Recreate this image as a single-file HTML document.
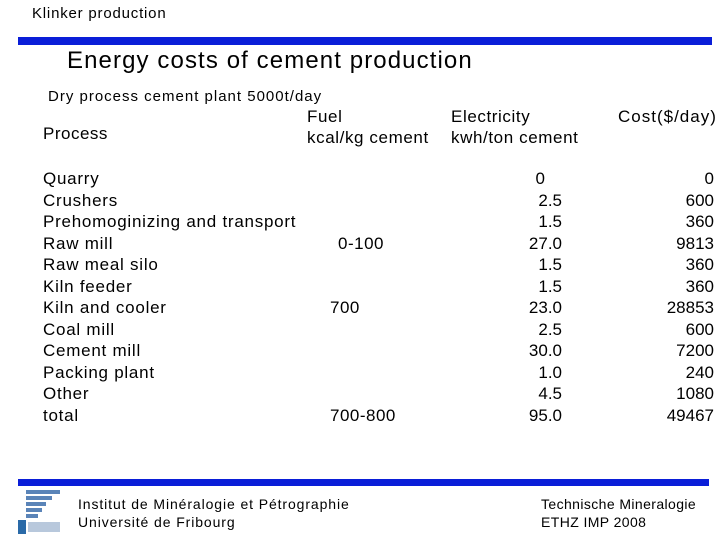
<!DOCTYPE html>
<html><head><meta charset="utf-8"><style>
body{margin:0;background:#fff}
#s{position:relative;width:720px;height:540px;overflow:hidden;background:#fff;font-family:"Liberation Sans",sans-serif;color:#000}
.t{position:absolute;white-space:nowrap;line-height:20px;height:20px}
.bar{position:absolute;background:#0a1ed8}
</style></head><body>
<div id="s">
<div class="t" style="left:32px;top:4px;font-size:15px;letter-spacing:0.8px">Klinker production</div>
<div class="bar" style="left:18px;top:37px;width:694px;height:8px"></div>
<div class="t" style="left:67px;top:47px;font-size:24px;line-height:28px;height:28px;letter-spacing:1.1px">Energy costs of cement production</div>
<div class="t" style="left:48px;top:87px;font-size:15px;letter-spacing:1px">Dry process cement plant 5000t/day</div>
<div class="t" style="left:43px;top:124px;font-size:17px;letter-spacing:0.5px">Process</div>
<div class="t" style="left:307px;top:106px;font-size:17px;line-height:21px;height:42px;letter-spacing:0.6px">Fuel<br>kcal/kg cement</div>
<div class="t" style="left:451px;top:106px;font-size:17px;line-height:21px;height:42px;letter-spacing:0.6px">Electricity<br>kwh/ton cement</div>
<div class="t" style="left:618px;top:107px;font-size:17px;letter-spacing:1px">Cost($/day)</div>
<div id="rows"></div>
<div class="bar" style="left:18px;top:479px;width:691px;height:7px"></div>
<svg style="position:absolute;left:18px;top:490px" width="44" height="44">
<g fill="#5a84b8"><rect x="8" y="0" width="34" height="4"/><rect x="8" y="6" width="26" height="4"/><rect x="8" y="12" width="20" height="4"/><rect x="8" y="18" width="16" height="4"/><rect x="8" y="24" width="12" height="4"/></g>
<rect x="0" y="30" width="8" height="14" fill="#2a6aa8"/><rect x="10" y="32" width="32" height="10" fill="#b8c8dc"/>
</svg>
<div class="t" style="left:78px;top:495px;font-size:14px;line-height:18px;height:36px;letter-spacing:0.9px">Institut de Minéralogie et Pétrographie<br>Université de Fribourg</div>
<div class="t" style="left:541px;top:495px;font-size:14px;line-height:18px;height:36px;letter-spacing:0.4px">Technische Mineralogie<br>ETHZ IMP 2008</div>
</div>
<script>
const processes=["Quarry","Crushers","Prehomoginizing and transport","Raw mill","Raw meal silo","Kiln feeder","Kiln and cooler","Coal mill","Cement mill","Packing plant","Other","total"];
const fuel=["","","","0-100","","","700","","","","","700-800"];
const electricity=["0","2.5","1.5","27.0","1.5","1.5","23.0","2.5","30.0","1.0","4.5","95.0"];
const cost=["0","600","360","9813","360","360","28853","600","7200","240","1080","49467"];
const root=document.getElementById('rows');
const y0=169,dy=21.5;
function add(txt,style,name){
  const d=document.createElement('div');
  d.className='t';
  
  
  d.style.cssText='font-size:17px;'+style;
  d.textContent=txt;root.appendChild(d);
}
processes.forEach((p,i)=>{
  const top=y0+i*dy;
  add(p,`left:43px;top:${top}px;letter-spacing:0.75px`,'process-label');
  if(fuel[i])add(fuel[i],`left:${fuel[i]==='0-100'?338:330}px;top:${top}px;letter-spacing:0.5px`,'fuel-value');
  const e=electricity[i];
  add(e,`right:${e.length===1?175:158}px;top:${top}px`,'electricity-value');
  add(cost[i],`right:6px;top:${top}px`,'cost-value');
});
</script>
</body></html>
